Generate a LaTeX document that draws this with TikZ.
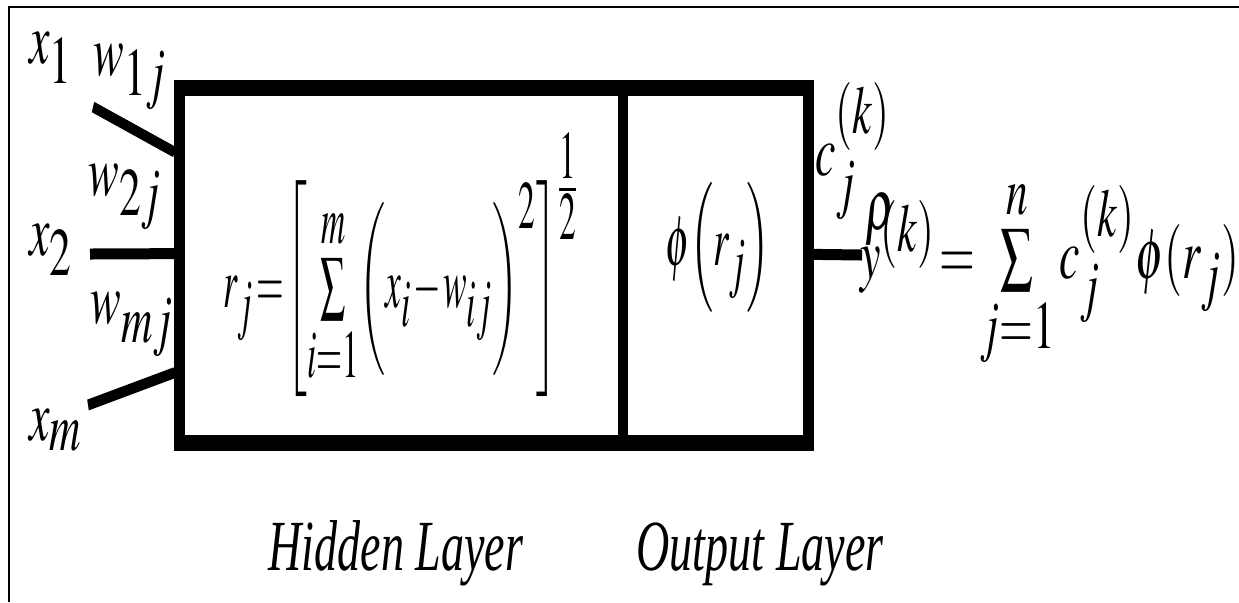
\documentclass[tikz,border=0pt]{standalone}
\usepackage{mathptmx}
\usepackage[no-math]{fontspec}
\setmainfont{Liberation Serif}
\usetikzlibrary{calc}
\DeclareMathSizes{18}{18}{17}{15}
\thickmuskip=1.5mu
\medmuskip=1mu

\begin{document}
\begin{tikzpicture}[x=0.25pt, y=-0.25pt,
layer/.style={rectangle, draw=black, line width=4pt, inner sep=0pt, minimum height=88.75pt},
wire/.style={line width=2.75pt},
lbl/.style={inner sep=0pt, anchor=base west, font=\fontsize{18}{22}\selectfont},
frame/.style={line width=0.5pt}
]
\useasboundingbox (0,0) rectangle (1239,602);
\begin{scope}[x=0.390625pt, transform canvas={xscale=0.64}]
\draw[frame] (9,602) -- (9,7) -- (1239,7);
% the two layers
\node[layer, minimum width=173.24pt] (hidden) at (401.25,265.5) {};
\node[layer, minimum width=72.46pt] (output) at (715.75,265.5) {};
% inputs and output
\coordinate (in1) at (93,107);
\coordinate (in2) at (90,254);
\coordinate (inm) at (88,405);
\coordinate (out) at (862,255);
\draw[wire] (in1) -- ($(hidden.north west)!0.194!(hidden.south west)$);
\draw[wire] (in2) -- ($(hidden.north west)!0.468!(hidden.south west)$);
\draw[wire] (inm) -- ($(hidden.north west)!0.789!(hidden.south west)$);
\draw[wire] ($(output.north east)!0.47!(output.south east)$) -- (out);
% labels
\node[lbl] (x1) at (29,63) {$x_1$};
\node[lbl] (w1) at (93,75) {$w_{1j}$};
\node[lbl] (w2) at (88,195) {$w_{2j}$};
\node[lbl] (x2) at (29,255) {$x_2$};
\node[lbl] (wm) at (90,323) {$w_{mj}$};
\node[lbl] (xm) at (29,440) {$x_m$};
\node[lbl, xscale=0.77] (rj) at (223,307) {$r_j=\left[\sum\limits_{i=1}^{m}\biggl(x_i-w_{ij}\biggr)^{2}\right]^{\textstyle\frac{1}{2}}$};
\node[lbl, xscale=0.85] (phi) at (665,265) {$\phi\Bigl(r_j\Bigr)$};
\node[lbl] (cj) at (815,175) {$c_j^{(k)}$};
\node[lbl] (yk) at (860,278) {$\rlap{\raisebox{0.68em}{$\mkern2mu\rho$}}y^{(k)}=\sum\limits_{j=1}^{n}c_j^{(k)}\phi(r_j)$};
\node[lbl] (hl) at (268,570) {\textit{Hidden Layer}};
\node[lbl] (ol) at (636,570) {\textit{Output Layer}};
\end{scope}
\end{tikzpicture}
\end{document}
